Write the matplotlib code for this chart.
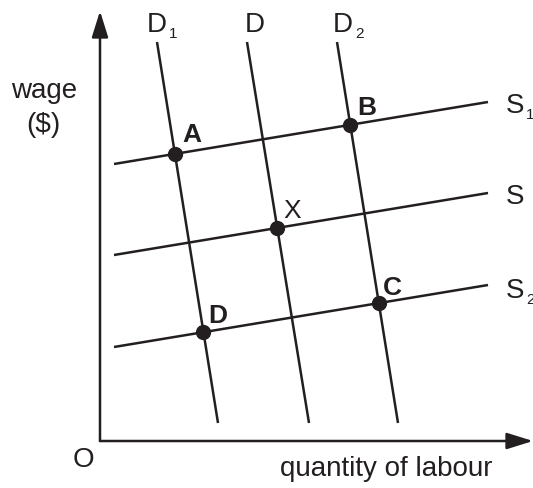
import matplotlib.pyplot as plt

plt.rcParams['font.family'] = ['Liberation Sans', 'DejaVu Sans']

INK = '#231f20'

# curves in (quantity, wage) units, origin at the axes corner
supply_names = ['S1', 'S', 'S2']
supply_q = [[14, 388], [14, 388], [14, 388]]
supply_w = [[277, 339], [186, 248], [94, 156]]

demand_names = ['D1', 'D', 'D2']
demand_q = [[57, 118], [147, 209], [237, 298]]
demand_w = [[399, 18], [399, 18], [399, 18]]

# labelled equilibria: (point label, demand index, supply index, bold)
points = [('A', 0, 0, True), ('B', 2, 0, True), ('X', 1, 1, False),
          ('C', 2, 2, True), ('D', 0, 2, True)]
point_label_pos = {'A': (82, 299), 'B': (257, 326), 'X': (183, 223),
                   'C': (283, 146), 'D': (108, 118)}


def intersect(q1, w1, q2, w2):
    # intersection of two straight segments given by their end points
    x1, x2 = q1
    y1, y2 = w1
    x3, x4 = q2
    y3, y4 = w2
    den = (x1 - x2) * (y3 - y4) - (y1 - y2) * (x3 - x4)
    t = ((x1 - x3) * (y3 - y4) - (y1 - y3) * (x3 - x4)) / den
    return x1 + t * (x2 - x1), y1 + t * (y2 - y1)


fig = plt.figure(figsize=(5.33, 4.88), dpi=100)
ax = fig.add_axes([0, 0, 1, 1])
ax.set_xlim(-100, 433)
ax.set_ylim(-47, 441)
ax.axis('off')

# axes with arrow heads
arrow = dict(arrowstyle='-|>,head_length=1.6,head_width=0.5', mutation_scale=10,
             lw=1.8, color=INK, shrinkA=0, shrinkB=0)
ax.annotate('', xy=(0, 430), xytext=(0, 0), arrowprops=arrow)
ax.annotate('', xy=(433, 0), xytext=(0, 0), arrowprops=arrow)

for q, w in zip(supply_q, supply_w):
    ax.plot(q, w, color=INK, lw=1.8, solid_capstyle='butt')
for q, w in zip(demand_q, demand_w):
    ax.plot(q, w, color=INK, lw=1.8, solid_capstyle='butt')

for name, di, si, bold in points:
    x, y = intersect(demand_q[di], demand_w[di], supply_q[si], supply_w[si])
    ax.plot(x, y, 'o', color=INK, ms=10, zorder=5)
    lx, ly = point_label_pos[name]
    ax.text(lx, ly, name, fontsize=19, fontweight='bold' if bold else 'normal',
            color=INK, ha='left', va='baseline')


def sub_label(x, y, main, sub, dx):
    ax.text(x, y, main, fontsize=20, color=INK, ha='left', va='baseline')
    if sub:
        ax.text(x + dx, y - 6, sub, fontsize=11, color=INK, ha='left', va='baseline')


sub_label(47, 409, 'D', '1', 22)
sub_label(145, 409, 'D', '', 22)
sub_label(233, 409, 'D', '2', 22)
sub_label(406, 328, 'S', '1', 20)
sub_label(406, 237, 'S', '', 20)
sub_label(406, 143, 'S', '2', 20)

ax.text(-56, 343, 'wage', fontsize=20, color=INK, ha='center', va='baseline')
ax.text(-57, 309, '($)', fontsize=20, color=INK, ha='center', va='baseline')
ax.text(-17, -19, 'O', fontsize=20, color=INK, ha='center', va='center')
ax.text(286, -35, 'quantity of labour', fontsize=20, color=INK, ha='center', va='baseline')

fig.savefig('out.png', dpi=100)
